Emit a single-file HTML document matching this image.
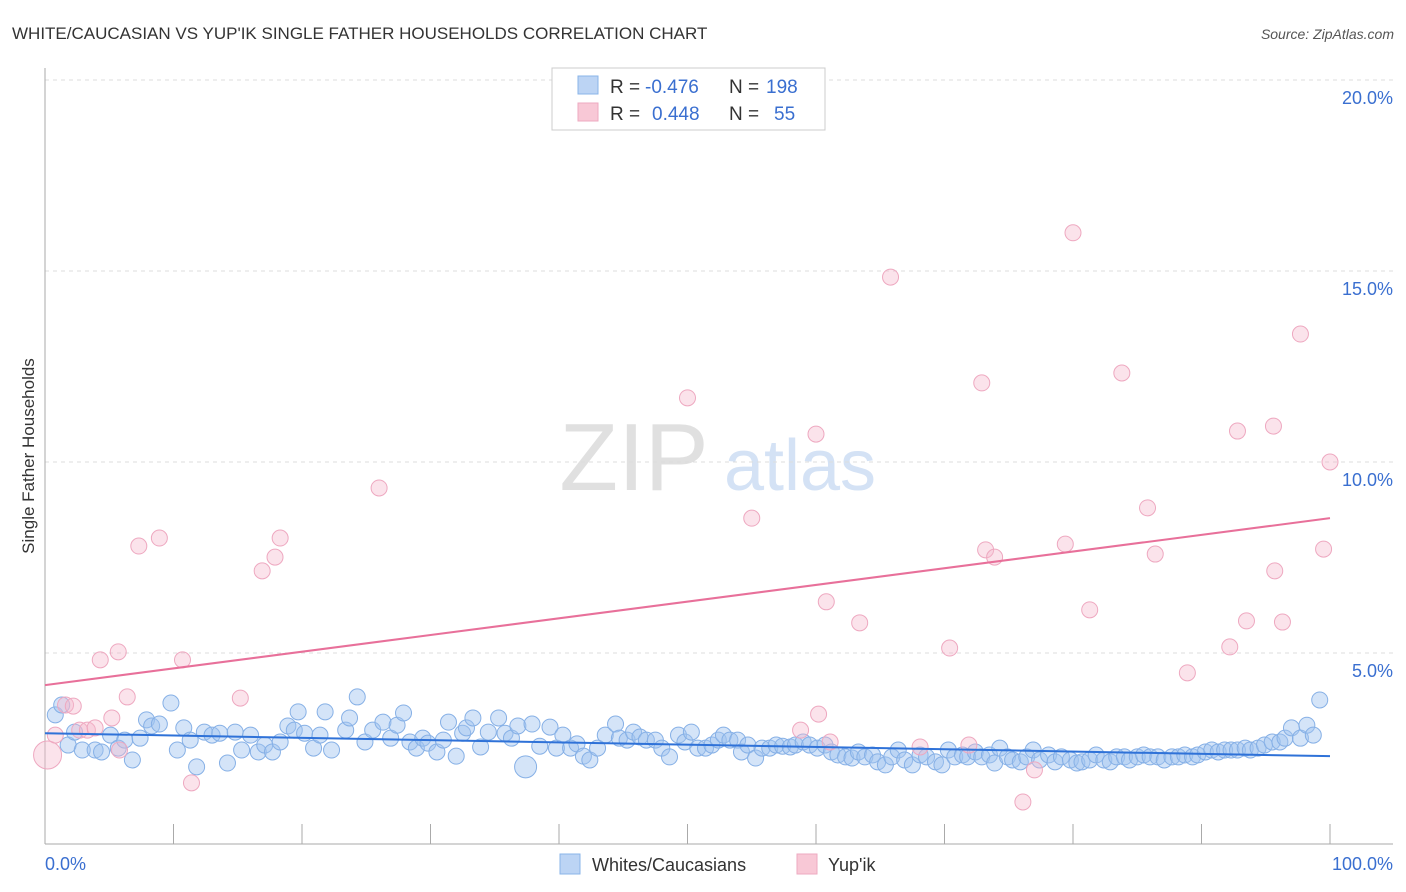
<!DOCTYPE html>
<html><head><meta charset="utf-8"><style>
body{margin:0;background:#fff;font-family:"Liberation Sans",sans-serif;}
#wrap{position:relative;width:1406px;height:892px;overflow:hidden;}
svg text{font-family:"Liberation Sans",sans-serif;}
</style></head><body><div id="wrap">
<svg id="c" width="1406" height="892">
<text x="12" y="39" font-size="17" fill="#333">WHITE/CAUCASIAN VS YUP'IK SINGLE FATHER HOUSEHOLDS CORRELATION CHART</text>
<text x="1394" y="39" font-size="14" fill="#555" font-style="italic" text-anchor="end">Source: ZipAtlas.com</text>
<text x="634" y="490" font-size="96" fill="#e0e0e0" font-family="Liberation Serif,serif" text-anchor="middle">ZIP</text>
<text x="800" y="490" font-size="72" fill="#d4e2f5" text-anchor="middle">atlas</text>
<text transform="translate(34,456) rotate(-90)" font-size="17" fill="#333" text-anchor="middle">Single Father Households</text>
<g id="grid"></g><g id="pts"></g><g id="lines"></g>
<g>
<rect x="552" y="68" width="273" height="62" fill="#fff" stroke="#ccc"/>
<rect x="578" y="76" width="20" height="18" fill="#bcd4f4" stroke="#8ab4e8"/>
<rect x="578" y="103" width="20" height="18" fill="#f8c8d6" stroke="#eeaac0"/>
<text x="610" y="93" font-size="19" fill="#333">R =</text>
<text x="645" y="93" font-size="19" fill="#3a6fd0">-0.476</text>
<text x="729" y="93" font-size="19" fill="#333">N =</text>
<text x="766" y="93" font-size="19" fill="#3a6fd0">198</text>
<text x="610" y="120" font-size="19" fill="#333">R =</text>
<text x="652" y="120" font-size="19" fill="#3a6fd0">0.448</text>
<text x="729" y="120" font-size="19" fill="#333">N =</text>
<text x="774" y="120" font-size="19" fill="#3a6fd0">55</text>
</g>
<g>
<rect x="560" y="854" width="20" height="20" fill="#bcd4f4" stroke="#8ab4e8"/>
<text x="592" y="871" font-size="18" fill="#333">Whites/Caucasians</text>
<rect x="797" y="854" width="20" height="20" fill="#f8c8d6" stroke="#eeaac0"/>
<text x="828" y="871" font-size="18" fill="#333">Yup'ik</text>
</g>
<text x="45" y="870" font-size="18" fill="#3a6fd0">0.0%</text>
<text x="1393" y="870" font-size="18" fill="#3a6fd0" text-anchor="end">100.0%</text>
</svg></div>
<script>
const yTicks=[5,10,15,20];
const yTickLabels=["5.0%","10.0%","15.0%","20.0%"];
const xTicks=[0,10,20,30,40,50,60,70,80,90,100];
const pinkX=[0.2,0.8,1.6,2.2,2.7,3.3,3.9,4.3,5.2,5.7,5.8,6.4,7.3,8.9,10.7,11.4,15.2,16.9,17.9,18.3,26,50,55,58.8,60,60.2,60.8,61.1,63.4,65.8,68.1,70.4,71.9,72.9,73.2,73.9,76.1,77,79.4,80,81.3,83.8,85.8,86.4,88.9,92.2,92.8,93.5,95.6,95.7,96.3,97.7,99.5,100];
const pinkY=[2.33,2.85,3.64,3.61,2.98,2.98,3.04,4.82,3.3,5.03,2.46,3.85,7.8,8.01,4.82,1.6,3.82,7.15,7.51,8.01,9.32,11.68,8.53,2.98,10.73,3.4,6.34,2.67,5.79,14.84,2.54,5.13,2.59,12.07,7.7,7.51,1.1,1.94,7.85,16.0,6.13,12.33,8.8,7.59,4.48,5.16,10.81,5.84,10.94,7.15,5.81,13.35,7.72,10.0];
const blueX=[0.8,1.3,1.8,2.3,2.9,3.9,4.4,5.1,5.7,6.2,6.8,7.4,7.9,8.3,8.9,9.8,10.3,10.8,11.3,11.8,12.4,13,13.6,14.2,14.8,15.3,16,16.6,17.1,17.7,18.3,18.9,19.4,19.7,20.2,20.9,21.4,21.8,22.3,23.4,23.7,24.3,24.9,25.5,26.3,26.9,27.4,27.9,28.4,28.9,29.4,29.8,30.5,31,31.4,32,32.5,32.8,33.3,33.9,34.5,35.3,35.8,36.3,36.8,37.4,37.9,38.5,39.3,39.8,40.3,40.9,41.4,41.9,42.4,43,43.6,44.4,44.7,45.3,45.8,46.3,46.8,47.5,48,48.6,49.3,49.8,50.3,50.8,51.4,51.9,52.4,52.8,53.3,53.9,54.2,54.7,55.3,55.8,56.4,56.9,57.4,58,58.4,59,59.5,60.1,60.7,61.2,61.7,62.3,62.8,63.3,63.8,64.4,64.8,65.4,65.9,66.4,66.9,67.5,68.1,68.6,69.3,69.8,70.3,70.8,71.4,71.8,72.4,72.9,73.5,73.9,74.3,74.9,75.3,75.9,76.4,76.9,77.4,78.1,78.6,79.1,79.8,80.3,80.7,81.3,81.8,82.4,82.9,83.4,84,84.4,85,85.5,86,86.6,87.1,87.7,88.2,88.7,89.3,89.7,90.3,90.8,91.3,91.8,92.3,92.8,93.4,93.8,94.4,94.9,95.5,96.1,96.5,97,97.7,98.2,98.7,99.2];
const blueY=[3.38,3.64,2.59,2.93,2.46,2.46,2.41,2.85,2.51,2.72,2.2,2.77,3.25,3.09,3.14,3.69,2.46,3.04,2.72,2.02,2.93,2.85,2.9,2.12,2.93,2.46,2.85,2.41,2.59,2.41,2.67,3.09,2.98,3.46,2.9,2.51,2.85,3.46,2.46,2.98,3.3,3.85,2.67,2.98,3.19,2.77,3.11,3.43,2.67,2.51,2.77,2.64,2.41,2.72,3.19,2.3,2.9,3.04,3.3,2.54,2.93,3.3,2.9,2.77,3.09,2.02,3.14,2.56,3.06,2.51,2.85,2.51,2.62,2.3,2.2,2.51,2.85,3.14,2.77,2.72,2.93,2.8,2.72,2.72,2.51,2.28,2.85,2.67,2.93,2.51,2.51,2.59,2.72,2.85,2.72,2.72,2.41,2.59,2.25,2.51,2.51,2.59,2.56,2.54,2.59,2.67,2.59,2.51,2.59,2.41,2.33,2.28,2.25,2.41,2.28,2.33,2.15,2.07,2.28,2.46,2.2,2.07,2.33,2.28,2.15,2.07,2.46,2.28,2.33,2.28,2.41,2.28,2.33,2.12,2.51,2.28,2.2,2.15,2.28,2.46,2.2,2.33,2.15,2.28,2.2,2.12,2.15,2.2,2.33,2.2,2.15,2.28,2.28,2.2,2.28,2.33,2.28,2.28,2.2,2.28,2.28,2.33,2.28,2.33,2.41,2.46,2.41,2.46,2.46,2.46,2.51,2.46,2.51,2.59,2.67,2.67,2.77,3.04,2.77,3.11,2.85,3.77];
const pinkLine=[4.16,8.53];
const blueLine=[2.9,2.3];
const X0=45,X1=1330,Y0=844,PPU=38.2;
const sx=v=>X0+(X1-X0)*v/100, sy=v=>Y0-v*PPU;
const NS="http://www.w3.org/2000/svg";
function mk(t,a,p){const e=document.createElementNS(NS,t);for(const k in a)e.setAttribute(k,a[k]);p.appendChild(e);return e;}
const grid=document.getElementById('grid'),pts=document.getElementById('pts'),lines=document.getElementById('lines');
yTicks.forEach((t,i)=>{
 const l=mk('line',{x1:45,x2:1393,y1:sy(t),y2:sy(t),stroke:'#ddd','stroke-dasharray':'4,4'},grid);
 
 
 const tx=mk('text',{x:1393,y:sy(t)+24,'font-size':18,fill:'#3a6fd0','text-anchor':'end'},grid);tx.textContent=yTickLabels[i];
 
 
});
const ya=mk('line',{x1:45,x2:45,y1:68,y2:Y0,stroke:'#aaa'},grid);


const xa=mk('line',{x1:45,x2:1393,y1:Y0,y2:Y0,stroke:'#aaa'},grid);


xTicks.forEach(t=>{const l=mk('line',{x1:sx(t),x2:sx(t),y1:824,y2:Y0,stroke:'#aaa'},grid);
 
 });
blueX.forEach((x,i)=>{const big=(Math.abs(x-37.4)<0.01);
 const c=mk('circle',{cx:sx(x),cy:sy(blueY[i]),r:big?11:8,fill:'rgba(160,196,240,0.45)',stroke:'#86b0e6','stroke-width':1},pts);
 
 });
pinkX.forEach((x,i)=>{const big=(i===0);
 const c=mk('circle',{cx:sx(x),cy:sy(pinkY[i]),r:big?14:8,fill:'rgba(246,186,204,0.4)',stroke:'#eea8c0','stroke-width':1},pts);
 
 });
const pl=mk('line',{x1:sx(0),y1:sy(pinkLine[0]),x2:sx(100),y2:sy(pinkLine[1]),stroke:'#e8709a','stroke-width':2},lines);


const bl=mk('line',{x1:sx(0),y1:sy(blueLine[0]),x2:sx(100),y2:sy(blueLine[1]),stroke:'#2f72d8','stroke-width':2},lines);


</script></body></html>
